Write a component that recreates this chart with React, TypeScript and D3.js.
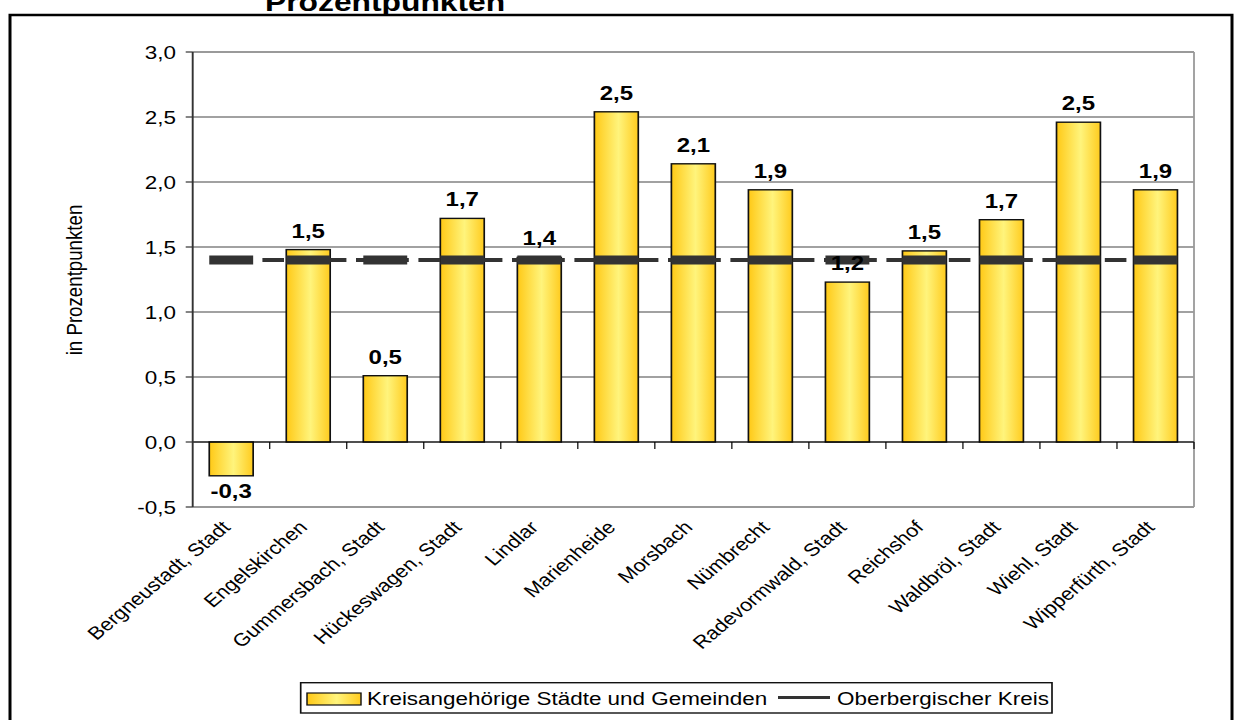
import React from "react";
import * as d3 from "d3";

const categories = [
  "Bergneustadt, Stadt",
  "Engelskirchen",
  "Gummersbach, Stadt",
  "Hückeswagen, Stadt",
  "Lindlar",
  "Marienheide",
  "Morsbach",
  "Nümbrecht",
  "Radevormwald, Stadt",
  "Reichshof",
  "Waldbröl, Stadt",
  "Wiehl, Stadt",
  "Wipperfürth, Stadt",
];
const barValues = [-0.26, 1.48, 0.51, 1.72, 1.42, 2.54, 2.14, 1.94, 1.23, 1.47, 1.71, 2.46, 1.94];
const barLabels = ["-0,3", "1,5", "0,5", "1,7", "1,4", "2,5", "2,1", "1,9", "1,2", "1,5", "1,7", "2,5", "1,9"];
const kreisValues = [1.4, 1.4, 1.4, 1.4, 1.4, 1.4, 1.4, 1.4, 1.4, 1.4, 1.4, 1.4, 1.4];
const yTicks = [-0.5, 0, 0.5, 1.0, 1.5, 2.0, 2.5, 3.0];
const yTickLabels = ["-0,5", "0,0", "0,5", "1,0", "1,5", "2,0", "2,5", "3,0"];
const seriesNames = ["Kreisangehörige Städte und Gemeinden", "Oberbergischer Kreis"];
const titleText = "Prozentpunkten";
const yAxisTitle = "in Prozentpunkten";

const S = 1.2; // horizontal stretch of the original picture
const W = 1235 / S;
const H = 720;
const FONT = "Arial, 'Liberation Sans', sans-serif";

export default function App() {
  const L = 192.7 / S;
  const R = 1194 / S;
  const T = 52;
  const B = 507;
  const x = d3.scaleBand<string>().domain(categories).range([L, R]).paddingInner(0.43).paddingOuter(0.215);
  const y = d3.scaleLinear().domain([-0.5, 3]).range([B, T]);
  const step = x.step();
  const bw = x.bandwidth();
  const cx = (c: string) => (x(c) as number) + bw / 2;

  const line = d3
    .line<number>()
    .x((_, i) => cx(categories[i]))
    .y((v) => y(v));

  return (
    <svg
      width={1235}
      height={720}
      viewBox={`0 0 ${W} ${H}`}
      preserveAspectRatio="none"
      style={{ position: "absolute", left: 0, top: 0, display: "block", background: "#fff" }}
      fontFamily={FONT}
    >
      <defs>
        <linearGradient id="barGrad" x1="0" y1="0" x2="1" y2="0">
          <stop offset="0" stopColor="#FFC916" />
          <stop offset="0.55" stopColor="#FFF47C" />
          <stop offset="1" stopColor="#FFCB1E" />
        </linearGradient>
      </defs>
      <rect x={0} y={0} width={W} height={H} fill="#fff" />
      {/* title (second line, cut at top) */}
      <text x={265 / S} y={11} fontSize={26.5} fontWeight="bold" fill="#000">
        {titleText}
      </text>
      {/* outer border */}
      <rect x={10 / S} y={15} width={(1232 - 10) / S} height={760} fill="none" stroke="#000" strokeWidth={2.5} />

      {/* gridlines */}
      {yTicks.map((t) => (
        <line key={"g" + t} x1={L} x2={R} y1={y(t)} y2={y(t)} stroke="#444" strokeWidth={1} />
      ))}
      {/* plot border */}
      <line x1={L} x2={R} y1={T} y2={T} stroke="#999" strokeWidth={1.5} />
      <line x1={R} x2={R} y1={T} y2={B} stroke="#999" strokeWidth={1.5} />
      <line x1={L} x2={R} y1={B} y2={B} stroke="#999" strokeWidth={2} />

      {/* bars */}
      {categories.map((c, i) => {
        const v = barValues[i];
        const y0 = y(Math.max(0, v));
        const h = Math.abs(y(v) - y(0));
        return (
          <rect key={"b" + c} x={x(c)} y={y0} width={bw} height={h} fill="url(#barGrad)" stroke="#111" strokeWidth={1.4} />
        );
      })}

      {/* x axis at zero */}
      <line x1={L} x2={R} y1={y(0)} y2={y(0)} stroke="#000" strokeWidth={1.2} />
      {categories.map((c, i) => (
        <line key={"xt" + c} x1={L + (i + 1) * step} x2={L + (i + 1) * step} y1={y(0)} y2={y(0) + 7} stroke="#000" strokeWidth={1} />
      ))}

      {/* y axis */}
      <line x1={L} x2={L} y1={T} y2={B} stroke="#333" strokeWidth={1.6} />
      {yTicks.map((t, i) => (
        <g key={"yt" + t}>
          <line x1={L - 7 / S} x2={L} y1={y(t)} y2={y(t)} stroke="#333" strokeWidth={1.2} />
          <text x={176 / S} y={y(t)} dy="0.36em" textAnchor="end" fontSize={18.7} fill="#000">
            {yTickLabels[i]}
          </text>
        </g>
      ))}

      {/* Kreis line */}
      <path d={line(kreisValues) || ""} fill="none" stroke="#333" strokeWidth={4} strokeDasharray="18 8" />
      {categories.map((c, i) => (
        <rect key={"m" + c} x={x(c)} y={y(kreisValues[i]) - 4.5} width={bw} height={9} fill="#333" />
      ))}

      {/* data labels */}
      {categories.map((c, i) => {
        const v = barValues[i];
        const pos = v >= 0;
        return (
          <text
            key={"l" + c}
            x={cx(c)}
            y={pos ? y(v) - 12 : y(v) + 22}
            textAnchor="middle"
            fontSize={20}
            fontWeight="bold"
            fill="#000"
          >
            {barLabels[i]}
          </text>
        );
      })}

      {/* category labels */}
      {categories.map((c) => (
        <text
          key={"c" + c}
          transform={`translate(${cx(c) - 5 / S},${B + 17}) rotate(-45)`}
          textAnchor="end"
          dy="0.35em"
          fontSize={18}
          fill="#000"
        >
          {c}
        </text>
      ))}

      {/* y axis title */}
      <text transform={`translate(${74 / S},280) rotate(-90)`} textAnchor="middle" dy="0.35em" fontSize={18.7} fill="#000">
        {yAxisTitle}
      </text>

      {/* legend */}
      <rect x={300.7 / S} y={682.7} width={(1052 - 300.7) / S} height={30.3} fill="#fff" stroke="#111" strokeWidth={1.4} />
      <rect x={307 / S} y={693} width={54 / S} height={12} fill="url(#barGrad)" stroke="#111" strokeWidth={1.2} />
      <text x={367 / S} y={698} dy="0.35em" fontSize={18.7} fill="#000">
        {seriesNames[0]}
      </text>
      <line x1={778 / S} x2={830 / S} y1={697.5} y2={697.5} stroke="#333" strokeWidth={3} />
      <text x={837 / S} y={698} dy="0.35em" fontSize={18.7} fill="#000">
        {seriesNames[1]}
      </text>
    </svg>
  );
}
